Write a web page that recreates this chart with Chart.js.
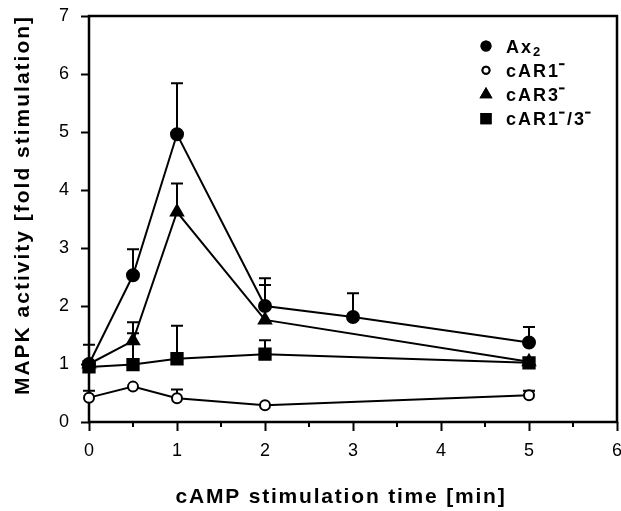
<!DOCTYPE html>
<html>
<head>
<meta charset="utf-8">
<script src="https://cdn.jsdelivr.net/npm/chart.js@4"></script>
<style>
  html, body { margin: 0; padding: 0; background: #fff; }
</style>
</head>
<body>
<canvas id="grafico" width="621" height="511"></canvas>
<script>
// tempo de estimulação (min)
const tempos = [0, 0.5, 1, 2, 3, 5];
const ticksX = [0, 1, 2, 3, 4, 5, 6];
const ticksY = [0, 1, 2, 3, 4, 5, 6, 7];

const nomes = ["Ax2", "cAR1-", "cAR3-", "cAR1-/3-"];
// pedaços da legenda: [texto, 0 normal / 1 sobrescrito / -1 subscrito]
const nomesLegenda = [
  [["Ax", 0], ["2", -1]],
  [["cAR1", 0], ["-", 1]],
  [["cAR3", 0], ["-", 1]],
  [["cAR1", 0], ["-", 1], ["/3", 0], ["-", 1]],
];
const tituloX = "cAMP stimulation time [min]";
const tituloY = "MAPK activity [fold stimulation]";

const ax2 = [1.0, 2.53, 4.96, 2.0, 1.81, 1.37];
const ax2Erro = [1.33, 2.98, 5.84, 2.48, 2.22, 1.64];

const car1 = [0.42, 0.61, 0.41, 0.29, null, 0.46];
const car1Erro = [0.54, null, 0.56, null, null, 0.54];

const car3 = [1.0, 1.4, 3.62, 1.76, null, 1.04];
const car3Erro = [null, 1.72, 4.11, 2.36, null, null];

const car13 = [0.95, 0.99, 1.09, 1.17, null, 1.02];
const car13Erro = [null, 1.53, 1.66, 1.41, null, null];

const erros = [ax2Erro, car1Erro, car3Erro, car13Erro];
const fonte = "'Liberation Sans', Arial, Helvetica, sans-serif";

function pontos(valores) {
  return tempos.map((t, i) => ({ x: t, y: valores[i] }));
}

function serie(label, valores, estilo, raio, fundo) {
  return {
    label: label,
    data: pontos(valores),
    borderColor: "#000",
    borderWidth: 2,
    pointStyle: estilo,
    pointRadius: raio,
    pointBackgroundColor: fundo,
    pointBorderColor: "#000",
    pointBorderWidth: 2,
    spanGaps: true,
    clip: false,
    tension: 0,
  };
}

function semPadding(s) {
  s.paddingLeft = 0;
  s.paddingRight = 0;
  s.paddingTop = 0;
  s.paddingBottom = 0;
}

// barras de erro (só para cima), moldura, títulos e legenda
const extras = {
  id: "extras",
  beforeDatasetsDraw(chart) {
    const ctx = chart.ctx;
    const x = chart.scales.x;
    const y = chart.scales.y;
    const area = chart.chartArea;
    ctx.save();
    ctx.strokeStyle = "#000";
    ctx.lineWidth = 2.5;
    ctx.strokeRect(area.left, area.top, area.right - area.left, area.bottom - area.top);

    // ticks menores no eixo x
    ctx.lineWidth = 2;
    for (let v = 0.5; v < 6; v += 1) {
      const px = x.getPixelForValue(v);
      ctx.beginPath();
      ctx.moveTo(px, area.bottom);
      ctx.lineTo(px, area.bottom + 5);
      ctx.stroke();
    }

    erros.forEach((lista, s) => {
      const valores = chart.data.datasets[s].data;
      lista.forEach((e, i) => {
        if (e == null) return;
        const px = x.getPixelForValue(tempos[i]);
        const py0 = y.getPixelForValue(valores[i].y);
        const py1 = y.getPixelForValue(e);
        ctx.beginPath();
        ctx.moveTo(px, py0);
        ctx.lineTo(px, py1);
        ctx.moveTo(px - 6, py1);
        ctx.lineTo(px + 6, py1);
        ctx.stroke();
      });
    });
    ctx.restore();
  },
  afterDraw(chart) {
    const ctx = chart.ctx;
    ctx.save();
    ctx.fillStyle = "#000";

    // títulos dos eixos
    ctx.font = "bold 21px " + fonte;
    ctx.letterSpacing = "1.8px";
    ctx.textAlign = "center";
    ctx.textBaseline = "middle";
    ctx.fillText(tituloX, 341, 497);
    ctx.save();
    ctx.translate(23, 205);
    ctx.rotate(-Math.PI / 2);
    ctx.letterSpacing = "2px";
    ctx.fillText(tituloY, 0, 0);
    ctx.restore();

    // legenda
    ctx.textAlign = "left";
    ctx.textBaseline = "alphabetic";
    ctx.letterSpacing = "2px";
    const raios = [4.5, 3.5, 5.5, 6.5];
    chart.data.datasets.forEach((ds, i) => {
      const yy = 46 + i * 24.2;
      Chart.helpers.drawPoint(ctx, {
        pointStyle: ds.pointStyle,
        radius: raios[i],
        borderWidth: 2,
      }, 486, yy);
      ctx.fillStyle = ds.pointBackgroundColor;
      ctx.strokeStyle = "#000";
      ctx.lineWidth = 2;
      ctx.fill();
      ctx.stroke();
      ctx.fillStyle = "#000";
      let xx = 506;
      nomesLegenda[i].forEach(([t, tipo]) => {
        if (tipo === 0) {
          ctx.font = "bold 18px " + fonte;
          ctx.fillText(t, xx, yy + 6.5);
          xx += ctx.measureText(t).width;
        } else if (tipo === 1) {
          ctx.fillRect(xx - 1, yy - 7, 5.5, 2);
          xx += 7;
        } else {
          ctx.font = "bold 13px " + fonte;
          ctx.fillText(t, xx, yy + 10);
          xx += ctx.measureText(t).width;
        }
      });
    });
    ctx.restore();
  },
};

const grafico = document.getElementById("grafico");

new Chart(grafico, {
  type: "line",
  data: {
    datasets: [
      serie(nomes[0], ax2, "circle", 6, "#000"),
      serie(nomes[1], car1, "circle", 5, "#fff"),
      serie(nomes[2], car3, "triangle", 7, "#000"),
      serie(nomes[3], car13, "rect", 8, "#000"),
    ],
  },
  options: {
    responsive: false,
    animation: false,
    layout: { autoPadding: false, padding: { top: 16, right: 4, left: 0, bottom: 0 } },
    plugins: {
      legend: { display: false },
      tooltip: { enabled: false },
    },
    scales: {
      x: {
        type: "linear",
        min: 0,
        max: 6,
        afterBuildTicks: (s) => { s.ticks = ticksX.map((v) => ({ value: v })); },
        afterFit: (s) => { s.height = 89; semPadding(s); },
        ticks: {
          color: "#000",
          font: { family: fonte, size: 18 },
          padding: 9,
          maxRotation: 0,
        },
        grid: {
          drawOnChartArea: false,
          color: "#000",
          tickLength: 9,
          tickWidth: 2,
        },
        border: { display: false },
      },
      y: {
        min: 0,
        max: 7,
        afterBuildTicks: (s) => { s.ticks = ticksY.map((v) => ({ value: v })); },
        afterFit: (s) => { s.width = 89; semPadding(s); },
        ticks: {
          color: "#000",
          font: { family: fonte, size: 18 },
          padding: 12,
        },
        grid: {
          drawOnChartArea: false,
          color: "#000",
          tickLength: 8,
          tickWidth: 2,
        },
        border: { display: false },
      },
    },
  },
  plugins: [extras],
});
</script>
</body>
</html>
